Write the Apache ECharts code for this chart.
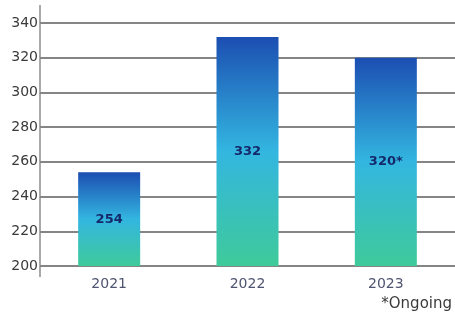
<!DOCTYPE html>
<html>
<head>
<meta charset="utf-8">
<script src="https://cdn.jsdelivr.net/npm/echarts@6/dist/echarts.min.js"></script>
<style>
html, body { margin: 0; padding: 0; background: #fff; }
#chart { width: 455px; height: 319px; }
</style>
</head>
<body>
<div id="chart"></div>
<script>
var years = ['2021', '2022', '2023'];
var counts = [254, 332, 320];
var barLabels = ['254', '332', '320*'];
var yTicks = [200, 220, 240, 260, 280, 300, 320, 340];

var myChart = echarts.init(document.getElementById('chart'));
var fill = new echarts.graphic.LinearGradient(0, 0, 0, 1, [
	{ offset: 0, color: '#1c4eb2' },
	{ offset: 0.5, color: '#33b6e0' },
	{ offset: 1, color: '#3fca9a' }
]);
myChart.setOption({
	animation: false,
	grid: { left: 40, right: -1, top: 23, bottom: 53 },
	xAxis: {
		type: 'category',
		data: years,
		axisLine: { show: false },
		axisTick: { show: false },
		axisLabel: { color: '#4f5470', fontSize: 14, fontFamily: 'DejaVu Sans', margin: 11 }
	},
	yAxis: {
		type: 'value',
		min: yTicks[0],
		max: yTicks[yTicks.length - 1],
		interval: 20,
		axisLine: { show: false },
		axisTick: { show: false },
		axisLabel: { color: '#3a3a3a', fontSize: 14, fontFamily: 'DejaVu Sans', margin: 2 },
		splitLine: { lineStyle: { color: '#858585', width: 2 } }
	},
	graphic: [
		{ type: 'line', shape: { x1: 40, y1: 5, x2: 40, y2: 277 }, style: { stroke: '#8c8c8c', lineWidth: 1.5 } },
		{ type: 'text', right: 3, top: 297, style: { text: '*Ongoing', fill: '#3a3a3a', font: '15px "DejaVu Sans"' } }
	],
	series: [{
		type: 'bar',
		barWidth: 62,
		data: counts.map(function (v, i) {
			return { value: v, label: { formatter: barLabels[i] } };
		}),
		itemStyle: { color: fill },
		label: { show: true, position: 'inside', color: '#15296a', fontSize: 13, fontWeight: 'bold', fontFamily: 'DejaVu Sans' }
	}]
});
</script>
</body>
</html>
